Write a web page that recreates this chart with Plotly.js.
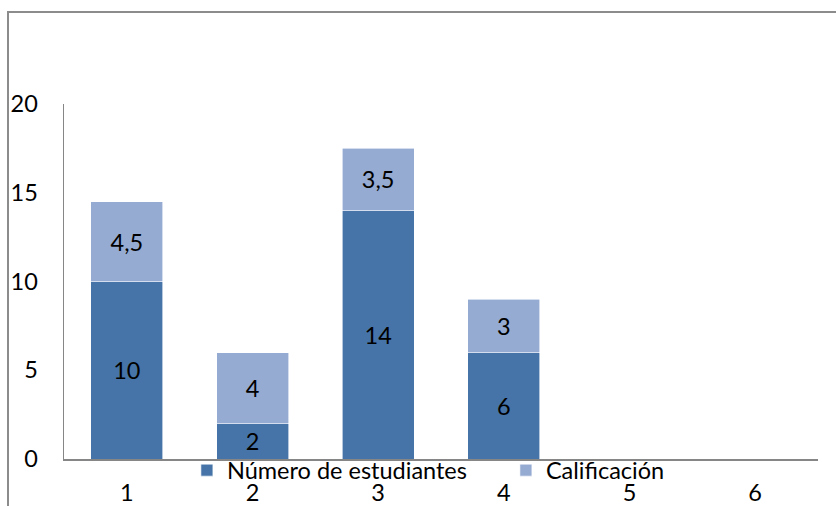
<!DOCTYPE html>
<html>
<head>
<meta charset="utf-8">
<script src="https://cdn.plot.ly/plotly-3.0.1.min.js"></script>
<style>
  html, body { margin: 0; padding: 0; background: #fff; }
  #wrap { position: relative; width: 836px; height: 506px; }
  #chart { width: 836px; height: 506px; }
  #frame { position: absolute; left: 7px; top: 11px; right: 0; bottom: 0;
           border-top: 2px solid #8c8c8c; border-left: 2px solid #8c8c8c; pointer-events: none; }
</style>
</head>
<body>
<div id="wrap">
  <div id="chart"></div>
  <div id="frame"></div>
</div>
<script>
const categories = ['1', '2', '3', '4', '5', '6'];
const numeroEstudiantes = [10, 2, 14, 6, null, null];
const calificacion = [4.5, 4, 3.5, 3, null, null];
const yTicks = [0, 5, 10, 15, 20];

function fmt(v) { return v == null ? '' : String(v).replace('.', ','); }

const font = { family: 'Lato, Calibri, Carlito, sans-serif', size: 23.5, color: '#000' };

const traces = [
  {
    type: 'bar', name: 'Número de estudiantes', x: categories, y: numeroEstudiantes,
    legendwidth: 274,
    marker: { color: '#4674A8', line: { color: '#ffffff', width: 0.6 } },
    text: numeroEstudiantes.map(fmt), textposition: 'inside', insidetextanchor: 'middle',
    textfont: font, constraintext: 'none', hoverinfo: 'skip'
  },
  {
    type: 'bar', name: 'Calificación', x: categories, y: calificacion,
    marker: { color: '#95ABD2', line: { color: '#ffffff', width: 0.6 } },
    text: calificacion.map(fmt), textposition: 'inside', insidetextanchor: 'middle',
    textfont: font, constraintext: 'none', hoverinfo: 'skip'
  }
];

const layout = {
  width: 836, height: 506,
  margin: { l: 64, r: 18, t: 104, b: 47 },
  paper_bgcolor: '#fff', plot_bgcolor: '#fff',
  barmode: 'stack', bargap: 0.427,
  font: font,
  separators: ',.',
  showlegend: true,
  legend: {
    orientation: 'h', x: 0.163, xanchor: 'left', y: -0.032, yanchor: 'middle',
    font: font, bgcolor: 'rgba(0,0,0,0)', traceorder: 'normal', itemwidth: 30
  },
  xaxis: {
    type: 'category', showline: true, linecolor: '#868686', linewidth: 1.5,
    showgrid: false, zeroline: false, ticks: 'outside', ticklen: 12,
    tickcolor: 'rgba(0,0,0,0)', tickfont: font
  },
  yaxis: {
    range: [0, 20], tickvals: yTicks, ticktext: yTicks.map(String),
    showline: true, linecolor: '#868686', linewidth: 1.5,
    showgrid: false, zeroline: false, ticks: 'outside', ticklen: 20,
    tickcolor: 'rgba(0,0,0,0)', tickfont: font
  }
};

Plotly.newPlot('chart', traces, layout, { displayModeBar: false, staticPlot: true });
</script>
</body>
</html>
